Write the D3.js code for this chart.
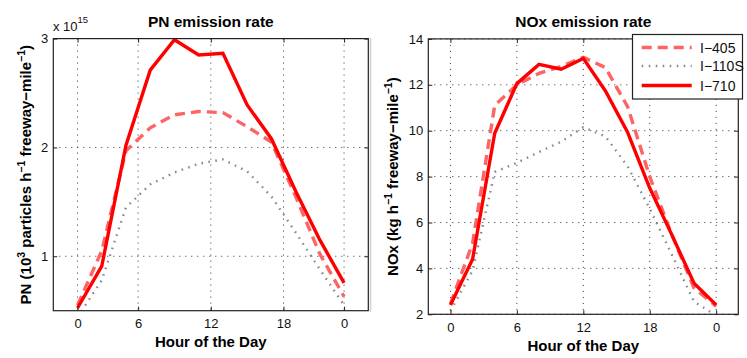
<!DOCTYPE html>
<html><head><meta charset="utf-8">
<script src="https://cdn.jsdelivr.net/npm/d3@7"></script>
<style>
body{margin:0;background:#fff;}
svg{display:block;font-family:"Liberation Sans",Arial,Helvetica,sans-serif;}
</style></head>
<body><svg id="c" width="747" height="358"></svg>
<script>
// ---- data ----
const seriesNames = ["I\u2212405", "I\u2212110S", "I\u2212710"];
// PN panel: sample positions (axis units) and values (x 10^15)
const pnX = [0, 2, 4, 6, 8, 10, 12, 14, 16, 18, 20, 22];
const pnI405 = [0.55, 1.05, 1.97, 2.18, 2.30, 2.33, 2.32, 2.19, 2.05, 1.55, 1.02, 0.63];
const pnI110S = [0.44, 0.78, 1.45, 1.66, 1.77, 1.85, 1.89, 1.78, 1.55, 1.22, 0.88, 0.55];
const pnI710 = [0.525, 0.91, 2.02, 2.71, 2.99, 2.85, 2.865, 2.39, 2.08, 1.60, 1.15, 0.755];
const pnXTicks = [0, 5, 11, 17, 22];
const pnXTickLabels = ["0", "6", "12", "18", "0"];
const pnYTicks = [1, 2, 3];
// NOx panel: hours and values (kg h^-1 freeway-mile^-1)
const noxX = [0, 2, 4, 6, 8, 10, 12, 14, 16, 18, 20, 22, 24];
const noxI405 = [2.45, 5.1, 11.1, 12.0, 12.5, 12.8, 13.2, 12.75, 11.05, 8.0, 5.46, 3.15, 2.35];
const noxI110S = [2.15, 3.9, 8.2, 8.6, 9.07, 9.52, 10.15, 9.75, 8.45, 6.6, 4.6, 2.55, 1.95];
const noxI710 = [2.41, 4.40, 9.89, 12.05, 12.89, 12.68, 13.15, 11.73, 9.93, 7.5, 5.46, 3.35, 2.41];
const noxXTicks = [0, 6, 12, 18, 24];
const noxXTickLabels = ["0", "6", "12", "18", "0"];
const noxYTicks = [2, 4, 6, 8, 10, 12, 14];

// ---- styles ----
const styles = [
  {color: "#ff6464", width: 3.4, dash: "10,6"},
  {color: "#8a8a8a", width: 2.4, dash: "1.6,5.4"},
  {color: "#ff0000", width: 3.4, dash: null}
];

const svg = d3.select("#c");
svg.append("line").attr("x1", 370.5).attr("x2", 370.5).attr("y1", 38).attr("y2", 312)
  .attr("stroke", "#cfcfcf").attr("stroke-width", 1.5);

function panel(cfg) {
  const x = d3.scaleLinear().domain(cfg.xDomain).range([cfg.left, cfg.right]);
  const y = d3.scaleLinear().domain(cfg.yDomain).range([cfg.bottom, cfg.top]);
  const g = svg.append("g");
  const clipId = "clip" + cfg.id;
  svg.append("clipPath").attr("id", clipId).append("rect")
    .attr("x", cfg.left).attr("y", cfg.top).attr("width", cfg.right - cfg.left).attr("height", cfg.bottom - cfg.top);
  // grid
  const grid = g.append("g").attr("stroke", "#333").attr("stroke-width", 1).attr("stroke-dasharray", "1,5");
  cfg.xTicks.forEach(t => grid.append("line").attr("x1", x(t)).attr("x2", x(t)).attr("y1", cfg.top).attr("y2", cfg.bottom));
  cfg.yTicks.forEach(t => grid.append("line").attr("y1", y(t)).attr("y2", y(t)).attr("x1", cfg.left).attr("x2", cfg.right));
  // lines
  const line = d3.line().x((d, i) => x(cfg.xs[i])).y(d => y(d));
  cfg.series.forEach((s, i) => {
    g.append("path").datum(s).attr("d", line).attr("fill", "none")
      .attr("clip-path", "url(#" + clipId + ")")
      .attr("stroke", styles[i].color).attr("stroke-width", styles[i].width)
      .attr("stroke-dasharray", styles[i].dash).attr("stroke-linejoin", "miter");
  });
  // box
  g.append("rect").attr("x", cfg.left).attr("y", cfg.top).attr("width", cfg.right - cfg.left)
    .attr("height", cfg.bottom - cfg.top).attr("fill", "none").attr("stroke", "#222").attr("stroke-width", 1.2);
  // axes (inward ticks)
  const xb = d3.axisBottom(x).tickValues(cfg.xTicks).tickSize(-4).tickPadding(8.5)
    .tickFormat((d, i) => cfg.xTickLabels[i]);
  const xt = d3.axisTop(x).tickValues(cfg.xTicks).tickSize(-4).tickFormat("");
  const yl = d3.axisLeft(y).tickValues(cfg.yTicks).tickSize(-4).tickPadding(5).tickFormat(d3.format("d"));
  const yr = d3.axisRight(y).tickValues(cfg.yTicks).tickSize(-4).tickFormat("");
  [[xb, "translate(0," + cfg.bottom + ")"], [xt, "translate(0," + cfg.top + ")"],
   [yl, "translate(" + cfg.left + ",0)"], [yr, "translate(" + cfg.right + ",0)"]].forEach(([ax, tr]) => {
    const a = g.append("g").attr("transform", tr).call(ax);
    a.select(".domain").remove();
    a.selectAll("line").attr("stroke", "#222");
    a.selectAll("text").attr("font-size", 13).attr("fill", "#111")
      .attr("font-family", '"Liberation Sans",Arial,sans-serif');
    a.selectAll("text").filter(function () { return this.textContent === ""; }).remove();
  });
  // title
  g.append("text").attr("x", (cfg.left + cfg.right) / 2).attr("y", 27).attr("text-anchor", "middle")
    .attr("font-size", 15.5).attr("font-weight", "bold").text(cfg.title);
  g.append("text").attr("x", (cfg.left + cfg.right) / 2).attr("y", cfg.bottom + 36.5).attr("text-anchor", "middle")
    .attr("font-size", 15).attr("font-weight", "bold").text("Hour of the Day");
  // y label
  const yt = g.append("text").attr("transform", "translate(" + cfg.ylabX + "," + ((cfg.top + cfg.bottom) / 2) + ") rotate(-90)")
    .attr("text-anchor", "middle").attr("font-size", 15).attr("font-weight", "bold");
  let pending = 0;
  cfg.ylab.forEach(p => {
    if (p.sup) {
      yt.append("tspan").attr("dy", -6 - pending).attr("font-size", 10.5).text(p.t);
      pending = -6;
    } else {
      yt.append("tspan").attr("dy", -pending).text(p.t);
      pending = 0;
    }
  });
  return {x, y, g};
}

const p1 = panel({id: 1, left: 53.3, right: 368.3, top: 38.6, bottom: 310.7,
  xDomain: [-2, 24], yDomain: [0.5, 3], xs: pnX, series: [pnI405, pnI110S, pnI710],
  xTicks: pnXTicks, xTickLabels: pnXTickLabels, yTicks: pnYTicks, title: "PN emission rate",
  ylabX: 31,
  ylab: [{t: "PN (10"}, {t: "3", sup: true}, {t: " particles h"}, {t: "\u22121", sup: true},
         {t: " freeway\u2212mile"}, {t: "\u22121", sup: true}, {t: ")"}]});
// exponent label
const ex = p1.g.append("text").attr("x", 53).attr("y", 30.5).attr("font-size", 13).attr("fill", "#111");
ex.append("tspan").text("x 10");
ex.append("tspan").attr("dy", -8).attr("font-size", 9.5).text("15");

const p2 = panel({id: 2, left: 428.3, right: 738.3, top: 38.9, bottom: 314.3,
  xDomain: [-2, 26], yDomain: [2, 14], xs: noxX, series: [noxI405, noxI110S, noxI710],
  xTicks: noxXTicks, xTickLabels: noxXTickLabels, yTicks: noxYTicks, title: "NOx emission rate",
  ylabX: 398,
  ylab: [{t: "NOx (kg h"}, {t: "\u22121", sup: true}, {t: " freeway\u2212mile"}, {t: "\u22121", sup: true}, {t: ")"}]});

// legend
const lg = svg.append("g");
lg.append("rect").attr("x", 632.5).attr("y", 34.5).attr("width", 110).attr("height", 64.5)
  .attr("fill", "#fff").attr("stroke", "#222").attr("stroke-width", 1.2);
const rows = [47.5, 66, 85.5];
seriesNames.forEach((n, i) => {
  lg.append("line").attr("x1", 641.7).attr("x2", 691.7).attr("y1", rows[i]).attr("y2", rows[i])
    .attr("stroke", styles[i].color).attr("stroke-width", styles[i].width).attr("stroke-dasharray", styles[i].dash);
  lg.append("text").attr("x", 700).attr("y", rows[i] + 5).attr("font-size", 14).attr("fill", "#111").text(n);
});
</script></body></html>
